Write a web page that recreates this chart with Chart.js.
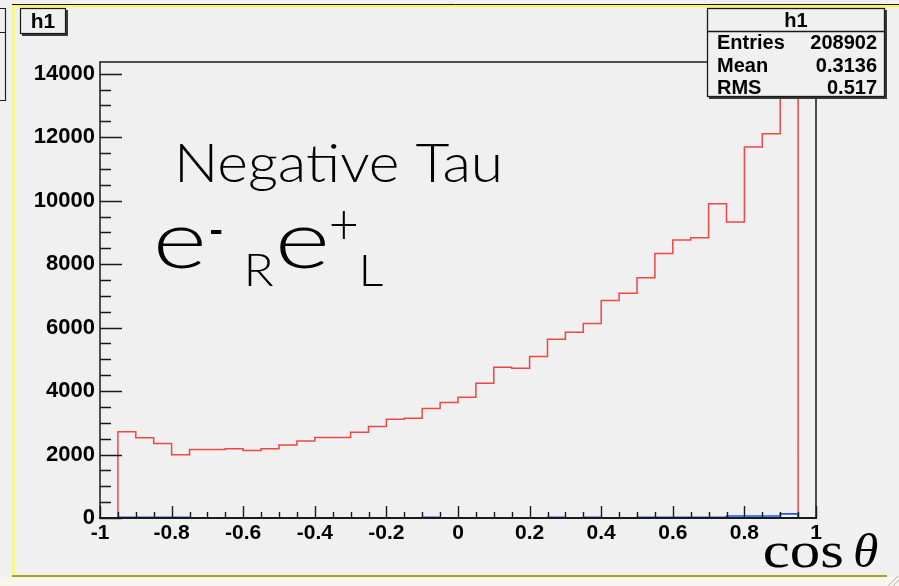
<!DOCTYPE html>
<html>
<head>
<meta charset="utf-8">
<script src="https://cdn.jsdelivr.net/npm/chart.js@4.4.1/dist/chart.umd.min.js"></script>
<style>
  html, body { margin: 0; padding: 0; background: #f0f0f0; overflow: hidden; }
  canvas { display: block; }
</style>
</head>
<body>
<canvas id="c" width="899" height="586"></canvas>
<script>
// Histogram bin edges in cos(theta): 40 bins of width 0.05
const binEdges = [-1, -0.95, -0.9, -0.85, -0.8, -0.75, -0.7, -0.65, -0.6, -0.55,
  -0.5, -0.45, -0.4, -0.35, -0.3, -0.25, -0.2, -0.15, -0.1, -0.05,
  0, 0.05, 0.1, 0.15, 0.2, 0.25, 0.3, 0.35, 0.4, 0.45,
  0.5, 0.55, 0.6, 0.65, 0.7, 0.75, 0.8, 0.85, 0.9, 0.95, 1];

// Bin contents, main histogram (red)
const negTauCounts = [0, 2720, 2530, 2345, 1990, 2155, 2155, 2185, 2125, 2185,
  2300, 2430, 2535, 2535, 2700, 2880, 3110, 3145, 3450, 3640,
  3805, 4250, 4750, 4720, 5090, 5635, 5855, 6130, 6855, 7080,
  7570, 8335, 8760, 8830, 9900, 9325, 11690, 12110, 13690, 0];

// Bin contents, overlaid histogram (blue)
const overlayCounts = [0, 25, 25, 25, 25, 0, 0, 0, 0, 0,
  0, 0, 0, 0, 0, 0, 0, 0, 25, 0,
  0, 0, 0, 0, 0, 25, 0, 25, 0, 0,
  25, 25, 25, 25, 25, 65, 65, 65, 130, 0];

// Axis ticks and labels
const xTickValues = [-1, -0.8, -0.6, -0.4, -0.2, 0, 0.2, 0.4, 0.6, 0.8, 1];
const xTickLabels = ['-1', '-0.8', '-0.6', '-0.4', '-0.2', '0', '0.2', '0.4', '0.6', '0.8', '1'];
const yTickValues = [0, 2000, 4000, 6000, 8000, 10000, 12000, 14000];
const yTickLabels = ['0', '2000', '4000', '6000', '8000', '10000', '12000', '14000'];
const yAxisMax = 14370;

// Statistics box
const histName = 'h1';
const statNames = ['Entries', 'Mean', 'RMS'];
const statValues = ['208902', '0.3136', '0.517'];

// Step outline points: each bin value held from its low edge to its high edge
function stepPoints(counts) {
  const pts = counts.map((v, i) => ({ x: binEdges[i], y: v }));
  pts.push({ x: binEdges[counts.length], y: counts[counts.length - 1] });
  return pts;
}

const BOLD = '"Liberation Sans", Arial, sans-serif';

// Draw text so that its ink box fills the given rectangle
function drawInk(ctx, text, font, left, top, right, bottom) {
  ctx.save();
  ctx.font = font;
  ctx.textBaseline = 'alphabetic';
  ctx.textAlign = 'left';
  const m = ctx.measureText(text);
  const inkW = m.actualBoundingBoxLeft + m.actualBoundingBoxRight;
  const inkH = m.actualBoundingBoxAscent + m.actualBoundingBoxDescent;
  const sx = (right - left) / inkW;
  const sy = (bottom - top) / inkH;
  ctx.translate(left, top);
  ctx.scale(sx, sy);
  ctx.fillText(text, m.actualBoundingBoxLeft, m.actualBoundingBoxAscent);
  ctx.restore();
}

const rootStyle = {
  id: 'rootStyle',
  beforeDraw(chart) {
    const ctx = chart.ctx;
    ctx.save();
    ctx.fillStyle = '#f0f0f0';
    ctx.fillRect(0, 0, chart.width, chart.height);
    // strip below the pad
    ctx.fillStyle = '#f6f6ef';
    ctx.fillRect(0, 577, chart.width, chart.height - 577);
    // neighbouring pad's box at the far left
    ctx.strokeStyle = '#222';
    ctx.lineWidth = 1.2;
    ctx.beginPath();
    ctx.moveTo(0, 8.5); ctx.lineTo(5.5, 8.5); ctx.lineTo(5.5, 100.5); ctx.lineTo(0, 100.5);
    ctx.moveTo(0, 32.5); ctx.lineTo(5.5, 32.5);
    ctx.stroke();
    // pad highlight border
    ctx.strokeStyle = '#111';
    ctx.lineWidth = 1;
    ctx.beginPath(); ctx.moveTo(12, 4.5); ctx.lineTo(chart.width, 4.5); ctx.stroke();
    ctx.strokeStyle = '#ffff30';
    ctx.lineWidth = 2;
    ctx.beginPath(); ctx.moveTo(13, 6); ctx.lineTo(chart.width, 6); ctx.stroke();
    ctx.beginPath(); ctx.moveTo(13.5, 5); ctx.lineTo(13.5, 576); ctx.stroke();
    ctx.strokeStyle = '#aaa21c';
    ctx.beginPath(); ctx.moveTo(12, 576); ctx.lineTo(887, 576); ctx.stroke();
    // resize grip
    ctx.strokeStyle = '#b0b0b0';
    ctx.lineWidth = 1;
    ctx.beginPath();
    ctx.moveTo(888, 586); ctx.lineTo(898, 576);
    ctx.moveTo(893, 586); ctx.lineTo(899, 580);
    ctx.stroke();
    ctx.restore();
  },
  afterDraw(chart) {
    const ctx = chart.ctx;
    const a = chart.chartArea;
    const xs = chart.scales.x, ys = chart.scales.y;
    ctx.save();
    ctx.strokeStyle = '#1a1a1a';

    // frame
    ctx.lineWidth = 1.5;
    ctx.strokeRect(a.left, a.top, a.right - a.left, a.bottom - a.top);
    ctx.lineWidth = 2;
    ctx.beginPath(); ctx.moveTo(a.left - 1, a.bottom); ctx.lineTo(a.right + 1, a.bottom); ctx.stroke();

    // inward ticks, y axis
    ctx.lineWidth = 1.4;
    ctx.beginPath();
    for (let v = 0; v <= yAxisMax; v += 500) {
      const py = Math.round(ys.getPixelForValue(v)) + 0.5;
      const len = yTickValues.includes(v) ? 22 : 11;
      ctx.moveTo(a.left, py); ctx.lineTo(a.left + len, py);
    }
    // inward ticks, x axis
    binEdges.forEach(v => {
      const px = Math.round(xs.getPixelForValue(v)) + 0.5;
      const major = xTickValues.some(t => Math.abs(t - v) < 1e-9);
      const len = major ? 12 : 6;
      ctx.moveTo(px, a.bottom); ctx.lineTo(px, a.bottom - len);
    });
    ctx.stroke();

    // title box
    ctx.fillStyle = '#3a3a3a';
    ctx.fillRect(22, 10, 46, 26);
    ctx.fillStyle = '#f0f0f0';
    ctx.fillRect(20, 8, 46, 26);
    ctx.lineWidth = 1.2;
    ctx.strokeRect(20.5, 8.5, 45, 25);
    ctx.fillStyle = '#000';
    ctx.font = 'bold 21px ' + BOLD;
    ctx.textAlign = 'center';
    ctx.textBaseline = 'middle';
    ctx.fillText(histName, 43, 22);

    // statistics box
    const bx = 707, by = 8, bw = 178, bh = 89;
    ctx.fillStyle = '#3a3a3a';
    ctx.fillRect(bx + 2, by + 2, bw, bh);
    ctx.fillStyle = '#f0f0f0';
    ctx.fillRect(bx, by, bw, bh);
    ctx.lineWidth = 1.3;
    ctx.strokeRect(bx + 0.5, by + 0.5, bw - 1, bh - 1);
    ctx.beginPath(); ctx.moveTo(bx, 31.5); ctx.lineTo(bx + bw, 31.5); ctx.stroke();
    ctx.fillStyle = '#000';
    ctx.font = 'bold 20px ' + BOLD;
    ctx.textBaseline = 'alphabetic';
    ctx.textAlign = 'center';
    ctx.fillText(histName, bx + bw / 2, 27);
    const rowBase = [49, 72, 94];
    statNames.forEach((n, i) => {
      ctx.textAlign = 'left';
      ctx.fillText(n, 717, rowBase[i]);
      ctx.textAlign = 'right';
      ctx.fillText(statValues[i], 877, rowBase[i]);
    });

    // annotations
    ctx.fillStyle = '#000';
    const thin = '300 48px Lato, "Open Sans", sans-serif';
    const big = '300 80px Lato, "Open Sans", sans-serif';
    const sub = '300 44px Lato, "Open Sans", sans-serif';
    drawInk(ctx, 'Negative Tau', thin, 180, 145, 499, 191);
    drawInk(ctx, 'e', big, 158, 227, 202, 269);
    drawInk(ctx, '-', sub, 211, 229, 222, 233.5);
    drawInk(ctx, 'R', sub, 248, 254, 274, 286);
    drawInk(ctx, 'e', big, 280, 227, 325, 269);
    drawInk(ctx, '+', sub, 331, 210, 357, 239);
    drawInk(ctx, 'L', sub, 363, 255, 383, 286);

    // axis title
    drawInk(ctx, 'cos', '56px "Liberation Serif", "DejaVu Serif", serif', 765, 543, 842, 568);
    drawInk(ctx, '\u03B8', 'italic 54px "Liberation Serif", "DejaVu Serif", serif', 855, 532, 878, 568);

    ctx.restore();
  }
};

new Chart(document.getElementById('c'), {
  type: 'line',
  data: {
    datasets: [
      {
        label: 'overlay',
        data: stepPoints(overlayCounts),
        borderColor: 'rgb(30, 90, 235)',
        borderWidth: 1.6,
        stepped: 'before',
        pointRadius: 0,
        fill: false
      },
      {
        label: 'negative tau',
        data: stepPoints(negTauCounts),
        borderColor: 'rgb(240, 70, 70)',
        borderWidth: 1.5,
        stepped: 'before',
        pointRadius: 0,
        fill: false
      }
    ]
  },
  options: {
    responsive: false,
    animation: false,
    devicePixelRatio: 1,
    layout: { padding: { top: 62, right: 83, left: 0, bottom: 0 } },
    plugins: { legend: { display: false }, tooltip: { enabled: false } },
    scales: {
      x: {
        type: 'linear',
        min: -1,
        max: 1,
        afterBuildTicks: s => { s.ticks = xTickValues.map(v => ({ value: v })); },
        afterFit: s => { s.height = 68; s.paddingLeft = 0; s.paddingRight = 0; },
        grid: { display: false, drawTicks: false },
        border: { display: false },
        ticks: {
          color: '#000',
          font: { family: BOLD, weight: 'bold', size: 21 },
          padding: 3,
          maxRotation: 0,
          autoSkip: false,
          callback: (v, i) => xTickLabels[i]
        }
      },
      y: {
        type: 'linear',
        min: 0,
        max: yAxisMax,
        afterBuildTicks: s => { s.ticks = yTickValues.map(v => ({ value: v })); },
        afterFit: s => { s.width = 100; s.paddingTop = 0; s.paddingBottom = 0; },
        grid: { display: false, drawTicks: false },
        border: { display: false },
        ticks: {
          color: '#000',
          font: { family: BOLD, weight: 'bold', size: 22 },
          padding: 5,
          autoSkip: false,
          callback: (v, i) => yTickLabels[i]
        }
      }
    }
  },
  plugins: [rootStyle]
});
</script>
</body>
</html>
